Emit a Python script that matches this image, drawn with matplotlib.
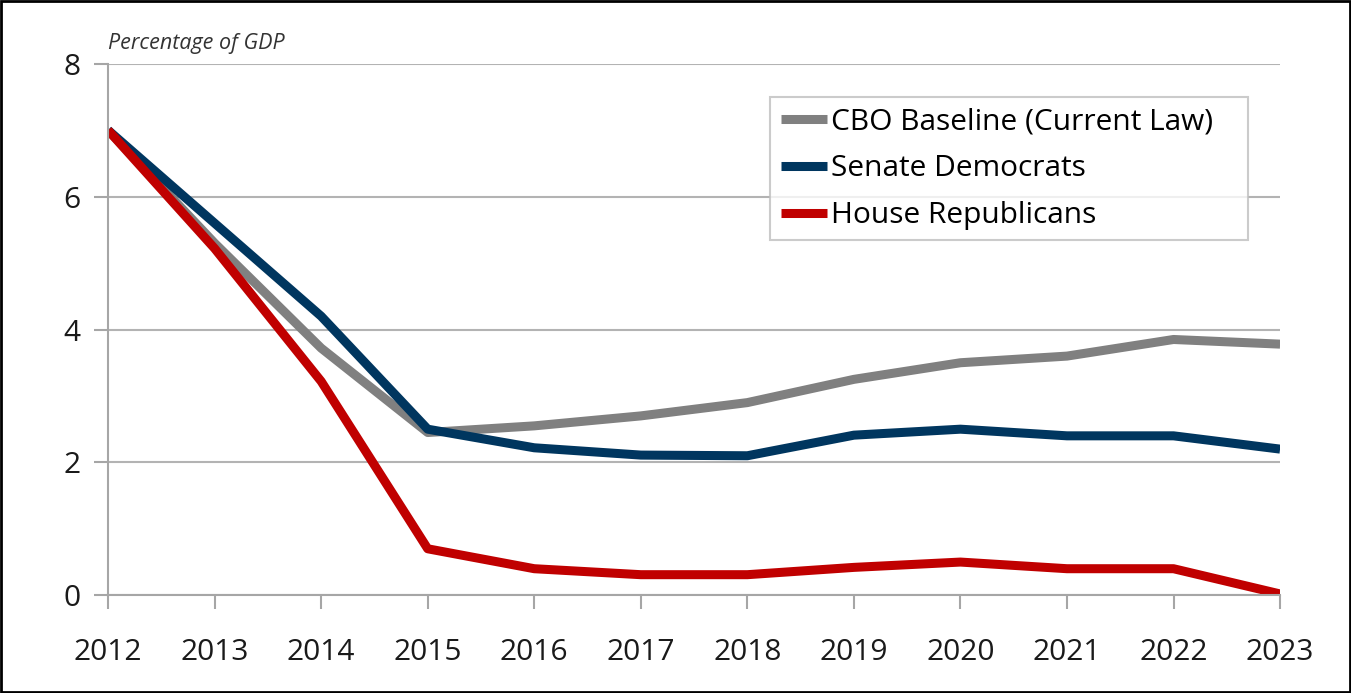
import matplotlib

matplotlib.use("Agg")
import matplotlib.pyplot as plt
from matplotlib.patches import Rectangle

years = [2012, 2013, 2014, 2015, 2016, 2017, 2018, 2019, 2020, 2021, 2022, 2023]
cbo_baseline = [7.0, 5.3, 3.72, 2.45, 2.55, 2.7, 2.9, 3.25, 3.5, 3.6, 3.85, 3.78]
senate_dems = [7.0, 5.6, 4.2, 2.5, 2.22, 2.11, 2.1, 2.41, 2.5, 2.4, 2.4, 2.2]
house_reps = [7.0, 5.22, 3.22, 0.7, 0.4, 0.31, 0.31, 0.42, 0.5, 0.4, 0.4, 0.02]
y_ticks = [0, 2, 4, 6, 8]

plt.rcParams["font.family"] = ["Open Sans", "DejaVu Sans"]

fig = plt.figure(figsize=(13.51, 6.93), dpi=100)
ax = fig.add_axes([0.080, 0.141, 0.8675, 0.767])

ax.plot(years, cbo_baseline, color="#808080", lw=6.5, label="CBO Baseline (Current Law)", solid_capstyle="butt")
ax.plot(years, senate_dems, color="#00365f", lw=6.5, label="Senate Democrats", solid_capstyle="butt")
ax.plot(years, house_reps, color="#c00000", lw=6.5, label="House Republicans", solid_capstyle="butt")

ax.set_xlim(2012, 2023)
ax.set_ylim(0, 8)
ax.set_xticks(years)
ax.set_yticks(y_ticks)
ax.tick_params(axis="both", labelsize=21.5, colors="#a6a6a6", labelcolor="#1a1a1a", length=10, width=1.5)
ax.tick_params(axis="x", pad=21)
ax.tick_params(axis="y", pad=10)
ax.yaxis.grid(True, color="#b3b3b3", lw=1.5)
ax.set_axisbelow(True)
for side in ("top", "right"):
    ax.spines[side].set_visible(False)
for side in ("left", "bottom"):
    ax.spines[side].set_color("#a6a6a6")
    ax.spines[side].set_linewidth(1.5)
    ax.spines[side].set_clip_on(False)

ax.text(0.0, 1.018, "Percentage of GDP", transform=ax.transAxes, fontsize=15.5, style="italic", color="#333333", va="bottom")

# fixed-width legend box, entries left aligned like the original
leg = ax.legend(
    loc="upper left",
    bbox_to_anchor=(0.565, 0.0, 0.408, 0.938),
    mode="expand",
    borderaxespad=0,
    fontsize=21.5,
    frameon=True,
    fancybox=False,
    handlelength=1.55,
    handletextpad=0.15,
    borderpad=0.35,
    labelspacing=0.6,
)
leg.get_frame().set_edgecolor("#bfbfbf")
leg.get_frame().set_linewidth(1.5)

fig.patches.append(Rectangle((0.001, 0.002), 0.998, 0.996, transform=fig.transFigure, fill=False, edgecolor="black", lw=2))

fig.savefig("out.png", dpi=100)
